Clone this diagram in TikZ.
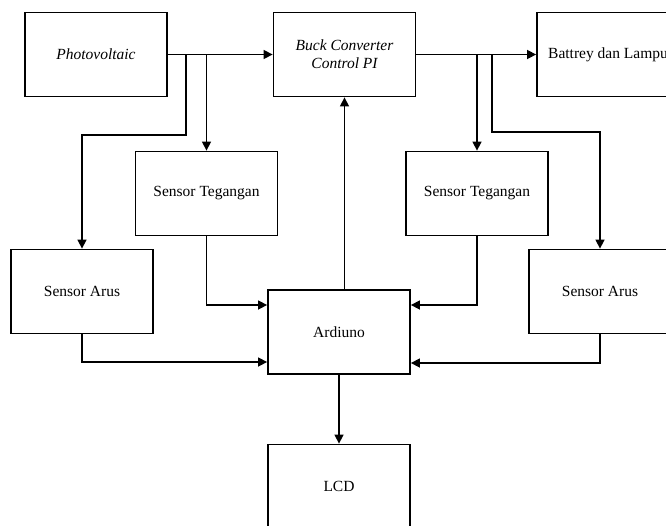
\documentclass[tikz,border=0pt]{standalone}
\usepackage{fontspec}
\setmainfont{Liberation Serif}
\usetikzlibrary{arrows.meta}
\begin{document}
\begin{tikzpicture}[x=1pt,y=-1pt,
  blk/.style={draw, line width=1.8pt, minimum width=142pt, minimum height=84pt, inner sep=0pt,
    font=\fontsize{15.5}{19}\selectfont, align=center},
  arr/.style={line width=1.5pt, -{Triangle[length=9pt,width=9pt]}},
  ln/.style={line width=1.5pt}]
\useasboundingbox (0,0) rectangle (666,525);
\clip (0,0) rectangle (666,525);
\node[blk] (pv) at (96,54.5) {\itshape Photovoltaic};
\node[blk] (buck) at (344.5,54.5) {\itshape Buck Converter\\[-1pt]\itshape Control PI};
\node[blk] (bat) at (608,54.5) {Battrey dan Lampu};
\node[blk] (st1) at (206.5,193.5) {Sensor Tegangan};
\node[blk] (sa1) at (82,291.5) {Sensor Arus};
\node[blk] (ard) at (339,332) {Ardiuno};
\node[blk] (st2) at (477,193.5) {Sensor Tegangan};
\node[blk] (sa2) at (600,291.5) {Sensor Arus};
\node[blk] (lcd) at (339,486.5) {LCD};
\coordinate (j1) at (186,54.5);
\coordinate (k1) at (186,135);
\coordinate (j4) at (492,54.5);
\coordinate (k4) at (492,132);
% main line
\draw[arr] (pv.east) -- (buck.west);
\draw[arr] (buck.east) -- (bat.west);
% left branches
\draw[arr] (j1) -- (k1) -| (sa1.north);
\draw[arr] (st1.north |- pv.east) -- (st1.north);
% right branches
\draw[arr] (st2.north |- buck.east) -- (st2.north);
\draw[arr] (j4) -- (k4) -| (sa2.north);
% sensors to arduino
\draw[arr] (st1.south) |- ([yshift=27pt]ard.west);
\draw[arr] (sa1.south) |- ([yshift=-30pt]ard.west);
\draw[arr] (st2.south) |- ([yshift=27pt]ard.east);
\draw[arr] (sa2.south) |- ([yshift=-31pt]ard.east);
% arduino to buck and lcd
\draw[arr] (buck.south |- ard.north) -- (buck.south);
\draw[arr] (ard.south) -- (lcd.north);
\end{tikzpicture}
\end{document}
